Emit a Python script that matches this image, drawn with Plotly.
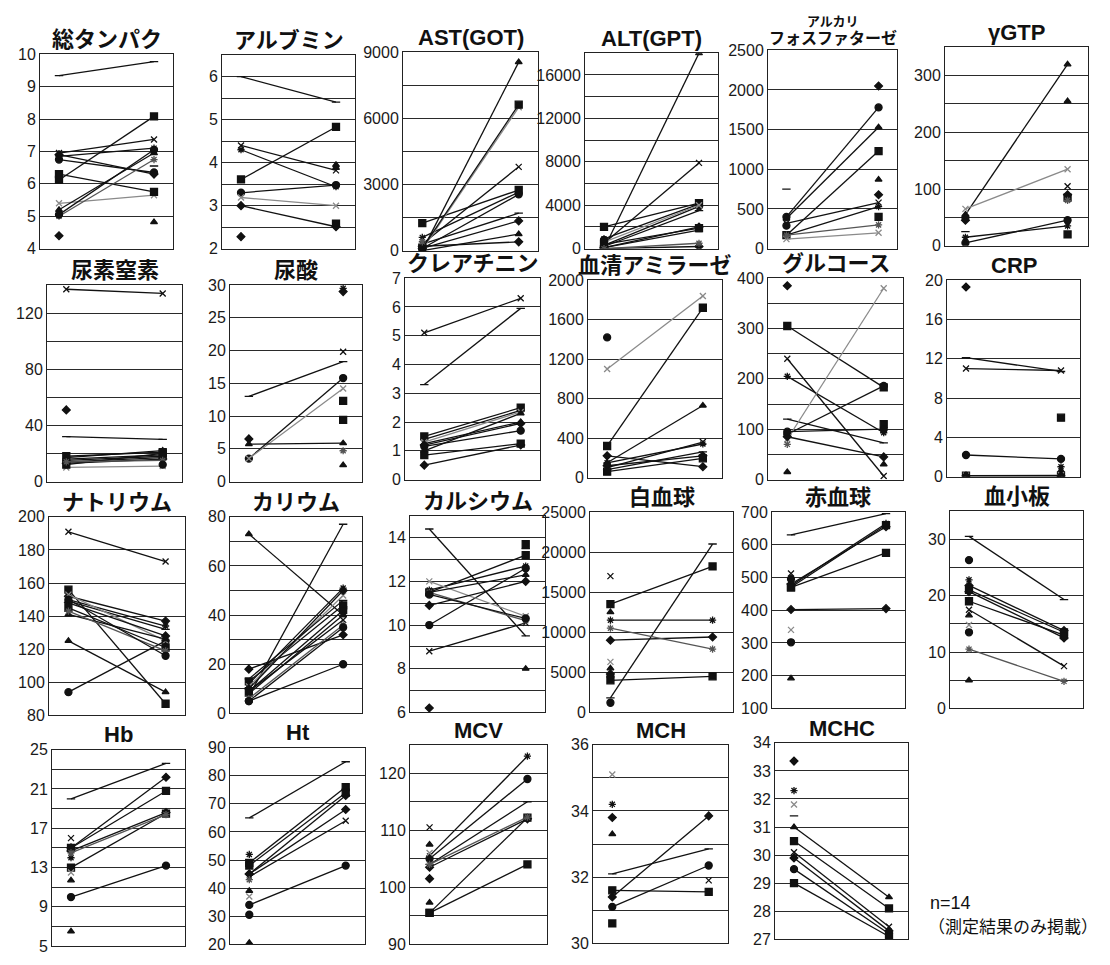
import plotly.graph_objects as go

# ---------------- data (before / after, 14 patients, None = not measured) ----------------
tp_before = [4.4, 6.12, None, 6.95, 6.85, 6.75, 9.34, 5.4, 6.9, 6.3, 5.2, 5.0, 5.05, None]
tp_after = [None, 8.08, 4.82, 7.37, 7.1, 6.35, 9.77, 5.65, 6.3, 5.75, 6.95, 6.75, 7.05, 6.55]

alb_before = [2.28, 3.61, None, 4.4, 4.3, 3.3, 6.0, 3.19, 3.0, None, None, None, None, None]
alb_after = [None, 4.83, 3.95, 3.82, 3.44, 3.48, 5.41, 3.0, 2.51, 2.58, 3.88, None, None, None]

ast_before = [200, 1250, 0, 300, 600, 100, 300, 50, 100, 100, 0, 400, None, None]
ast_after = [400, 2750, 8550, 3800, 2650, 2550, 1700, 6500, 1350, 6620, 750, None, None, None]

alt_before = [0, 2000, 0, 500, 900, 300, 200, 600, 100, 400, 100, 0, 800, None]
alt_after = [200, 4200, 18000, 7900, 4100, 3900, 3500, 4000, 2000, 1900, 1700, 500, None, None]

alp_before = [None, 170, 380, 320, 170, 400, 750, 120, None, None, None, 170, 290, None]
alp_after = [2050, 1230, 1530, 580, 530, 1780, None, 200, 680, 400, 870, 300, None, None]

ggtp_before = [45, None, 55, None, 15, 5, 25, 65, None, None, None, None, 50, None]
ggtp_after = [None, 20, 320, 105, 35, 45, None, 135, 90, 85, 255, 80, None, None]

bun_before = [51, 18, 16, 137, 15, 14, 32, 10, 13, 12, 17, 14, None, None]
bun_after = [None, 21, 19, 134, 18, 17, 30, 11, 16, 20, 22, 15, 12, None]

ua_before = [6.5, None, None, None, None, 3.5, 13.0, 3.5, None, None, 5.7, None, None, None]
ua_after = [None, 12.3, 2.5, 19.8, 29.5, 15.8, 18.3, 14.2, 29.0, 9.4, 5.85, 4.7, None, None]

cre_before = [0.5, 1.5, 1.25, 5.1, 1.4, 1.15, 3.3, 1.3, 1.2, 0.85, 1.0, None, None, None]
cre_after = [1.2, 2.5, 2.0, 6.3, 2.4, 1.7, 5.95, 2.35, 1.95, 1.25, 2.3, None, None, None]

amy_before = [220, 320, 150, 100, 150, 1420, 80, 1100, 120, 60, None, None, None, None]
amy_after = [110, 1720, 730, 360, 340, None, 260, 1840, 220, 195, None, None, None, None]

glu_before = [385, 305, None, 240, 205, 90, 120, 80, 85, None, 15, 70, 95, None]
glu_after = [None, 183, 30, 7, 93, 186, 73, 380, 45, 110, None, None, 100, None]

crp_before = [19.3, 0.1, None, 11.0, None, 2.2, 12.1, 0.1, 0.05, None, 0.1, None, None, None]
crp_after = [None, 0.1, 0.6, 10.8, 1.0, 1.8, 10.7, 0.15, 0.05, 6.0, 0.1, None, None, None]

na_before = [152, 156, 125, 191, 150, 94, 149, 153, 148, 145, 141, 143, 150, None]
na_after = [137, 87, 94, 173, 134, 125, 132, 125, 128, 121, 126, 119, 116, None]

k_before = [18, 13, 73, 9, 12, 5, 7, 11, 10, 9, 8, 6, 5, 14]
k_after = [32, 44, 40, 38, 51, 20, 77, 48, 50, 42, 40, 36, 35, 46]

ca_before = [6.2, 11.5, None, 8.8, 11.6, 10.0, 14.4, 12.0, 10.9, None, 11.5, 11.5, 11.4, None]
ca_after = [None, 13.2, 8.0, 10.1, 12.7, 12.6, 9.5, 10.4, 12.0, 13.7, 12.3, 10.2, 10.3, 13.5]

wbc_before = [9000, 13500, 12500, 17000, 11500, 1200, 1800, 6300, 4800, 4000, 5500, 10500, 4500, None]
wbc_after = [9400, 18200, None, None, 11500, None, 21000, None, None, 4500, None, 7900, None, None]

rbc_before = [480, 470, 192, 512, 475, 495, 630, 340, 402, 470, None, None, 302, None]
rbc_after = [655, 660, None, None, 665, None, 695, None, 405, 575, None, None, None, None]

plt_before = [21.8, 21.0, 16.5, 17.5, 22.8, 26.3, 30.5, 14.8, 20.7, 19.0, 5.0, 10.5, 13.5, None]
plt_after = [13.8, 13.5, None, 7.5, None, None, 19.3, None, 12.5, 13.0, None, 4.8, None, None]

hb_before = [15.0, 13.0, 11.7, 16.0, 14.0, 10.0, 20.0, 12.5, 14.7, 15.0, 6.5, 14.5, None, None]
hb_after = [22.2, 18.5, None, None, None, 13.2, 23.6, None, 18.6, 20.8, None, 18.4, None, None]

ht_before = [45, 49, 39, 44, 52, 34, 65, 37, 45, 48, 20.5, 43, 30.5, 50]
ht_after = [73, 76, None, 64, None, 48, 85, None, 68, 74, None, None, None, None]

mcv_before = [101.5, 95.5, 107.5, 110.5, 105.5, 105.0, 104.0, 106.0, 103.5, 95.5, 97.3, 104.0, None, None]
mcv_after = [None, 104.0, None, None, 123.0, 119.0, 115.0, None, 112.0, 112.2, None, 112.3, None, None]

mch_before = [33.8, 31.6, 33.3, None, 34.2, 31.1, 32.1, 35.1, 31.4, 30.6, None, None, None, None]
mch_after = [None, 31.55, None, 31.9, None, 32.35, 32.85, None, 33.85, None, None, None, None, None]

mchc_before = [33.35, 30.5, 31.0, 30.1, 32.3, 29.5, 31.4, 31.8, 29.9, 29.0, None, None, None, None]
mchc_after = [None, 28.1, 28.5, 27.45, None, 27.2, None, None, 27.3, 27.1, None, None, None, None]

titles = ["総タンパク", "アルブミン", "AST(GOT)", "ALT(GPT)", "アルカリ\nフォスファターゼ", "γGTP",
          "尿素窒素", "尿酸", "クレアチニン", "血清アミラーゼ", "グルコース", "CRP",
          "ナトリウム", "カリウム", "カルシウム", "白血球", "赤血球", "血小板",
          "Hb", "Ht", "MCV", "MCH", "MCHC"]

series = [(tp_before, tp_after), (alb_before, alb_after), (ast_before, ast_after), (alt_before, alt_after),
          (alp_before, alp_after), (ggtp_before, ggtp_after), (bun_before, bun_after), (ua_before, ua_after),
          (cre_before, cre_after), (amy_before, amy_after), (glu_before, glu_after), (crp_before, crp_after),
          (na_before, na_after), (k_before, k_after), (ca_before, ca_after), (wbc_before, wbc_after),
          (rbc_before, rbc_after), (plt_before, plt_after), (hb_before, hb_after), (ht_before, ht_after),
          (mcv_before, mcv_after), (mch_before, mch_after), (mchc_before, mchc_after)]

# axis: (min, max, label step, grid step)
axis_min = [4, 2, 0, 0, 0, 0, 0, 0, 0, 0, 0, 0, 80, 0, 6, 0, 100, 0, 5, 20, 90, 30, 27]
axis_max = [10, 6.5, 9000, 18000, 2500, 350, 140, 30, 7, 2000, 400, 20, 200, 80, 15, 25000, 700, 35, 25, 90, 125, 36, 34]
label_step = [1, 1, 3000, 4000, 500, 100, 40, 5, 1, 400, 100, 4, 20, 20, 2, 5000, 100, 10, 4, 10, 10, 2, 1]
grid_step = [1, 0.5, 1500, 2000, 500, 50, 20, 5, 1, 400, 50, 4, 20, 10, 1, 5000, 100, 5, 2, 10, 5, 1, 1]

# ---------------- layout (pixel boxes: left, top, right, bottom) ----------------
W, H = 1110, 965
boxes = [(40, 47, 173, 245), (222, 48, 355, 245), (403, 45, 538, 247), (585, 46, 718, 245),
         (768, 43, 897, 245), (945, 40, 1088, 242),
         (47, 282, 182, 482), (230, 282, 362, 482), (405, 275, 540, 480), (588, 277, 722, 478),
         (768, 275, 903, 480), (947, 277, 1080, 477),
         (49, 518, 185, 720), (230, 518, 362, 718), (410, 517, 545, 717), (590, 513, 733, 717),
         (772, 513, 905, 713), (950, 512, 1083, 713),
         (52, 755, 185, 955), (230, 753, 365, 953), (410, 750, 547, 953), (593, 750, 728, 952),
         (775, 748, 908, 948)]

SYMS = ['diamond', 'square', 'triangle-up', 'x-thin-open', 'asterisk-open', 'circle', 'line-ew-open',
        'x-thin-open', 'diamond', 'square', 'triangle-up', 'asterisk-open', 'circle', 'line-ew-open']
COLS = ['#111111'] * 14
COLS[7] = '#8a8a8a'
COLS[11] = '#555555'

FAM = 'Liberation Sans, Noto Sans CJK JP'

fig = go.Figure()
layout = {}
annotations = []


def fmt(v):
    if abs(v - round(v)) < 1e-9:
        return str(int(round(v)))
    return str(v)


def ann(x, y, text, size, xanchor='center'):
    return dict(x=x, y=y, xref='paper', yref='paper', text=text, showarrow=False,
                xanchor=xanchor, yanchor='middle', font=dict(family=FAM, size=size, color='#111'))


for i, (title, (bef, aft)) in enumerate(zip(titles, series)):
    n = i + 1
    xa = 'x' if n == 1 else f'x{n}'
    ya = 'y' if n == 1 else f'y{n}'
    l, t, r, b = boxes[i]
    for p in range(len(bef)):
        bv, av = bef[p], aft[p]
        if bv is None and av is None:
            continue
        fig.add_trace(go.Scatter(
            x=[0, 1], y=[bv, av], mode='lines+markers', xaxis=xa, yaxis=ya,
            line=dict(color=COLS[p], width=1.3),
            marker=dict(symbol=SYMS[p], size=7 if SYMS[p] in ('square', 'circle') else 6,
                        color=COLS[p], line=dict(color=COLS[p], width=1.3)),
            showlegend=False, hoverinfo='y', connectgaps=False))
    lo, hi, ls, gs = axis_min[i], axis_max[i], label_step[i], grid_step[i]
    tv, tt = [], []
    k = 0
    while lo + k * gs <= hi + 1e-9:
        v = lo + k * gs
        tv.append(v)
        q = (v - lo) / ls
        tt.append(fmt(v) if abs(q - round(q)) < 1e-9 else "")
        k += 1
    layout['xaxis' if n == 1 else f'xaxis{n}'] = dict(
        domain=[l / W, r / W], range=[-0.2, 1.2], showgrid=False, zeroline=False,
        showticklabels=False, ticks='', showline=True, mirror=True, linecolor='#222', linewidth=1,
        anchor=ya, fixedrange=True)
    layout['yaxis' if n == 1 else f'yaxis{n}'] = dict(
        domain=[1 - b / H, 1 - t / H], range=[lo, hi], tickmode='array', tickvals=tv, ticktext=tt,
        showgrid=True, gridcolor='#2a2a2a', gridwidth=1, zeroline=False, ticks='',
        showline=True, mirror=True, linecolor='#222', linewidth=1, anchor=xa,
        tickfont=dict(family='Liberation Sans, Arial', size=16, color='#1a1a1a'), fixedrange=True)
    cx = (l + r) / 2 / W
    if '\n' in title:
        t1, t2 = title.split('\n')
        annotations.append(ann(cx, 1 - (t - 29) / H, f'<b>{t1}</b>', 13))
        annotations.append(ann(cx, 1 - (t - 12) / H, f'<b>{t2}</b>', 16))
    else:
        annotations.append(ann(cx, 1 - (t - 15) / H, f'<b>{title}</b>', 22))

annotations.append(ann(928 / W, 1 - 911 / H, 'n=14', 18, xanchor='left'))
annotations.append(ann(926 / W, 1 - 936 / H, '（測定結果のみ掲載）', 17, xanchor='left'))

fig.update_layout(width=W, height=H, margin=dict(l=0, r=0, t=0, b=0), paper_bgcolor='white',
                  plot_bgcolor='white', annotations=annotations, **layout)

fig.write_html("out.html", config={'displayModeBar': False},
               post_script="document.body.style.margin='0px';")
